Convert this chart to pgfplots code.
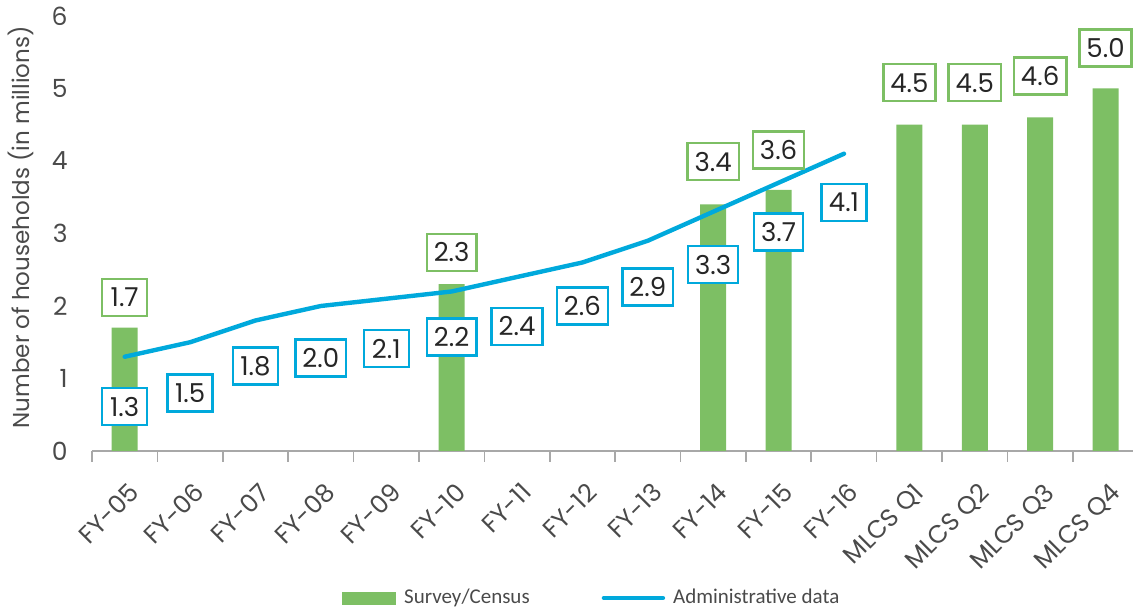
\documentclass[border=0pt]{standalone}
\usepackage{fontspec}
\setmainfont{Poppins}
\newfontfamily\legfont{Carlito}
\usepackage{pgfplots}
\usepackage{pgfplotstable}
\pgfplotsset{compat=1.18}
\usetikzlibrary{calc}

\definecolor{survgreen}{HTML}{7DBF64}
\definecolor{adminblue}{HTML}{00A9DC}
\definecolor{txtgray}{HTML}{4A4A4A}
\definecolor{axgray}{HTML}{A8A8A8}

\tikzset{lblbox/.style={fill=white, line width=1.2pt, minimum width=22.5pt,
  minimum height=18.5pt, inner xsep=3.5pt, inner ysep=0pt, text=black!85,
  font=\fontsize{13}{14}\selectfont}}

% survey / census bars
\pgfplotstableread{
x y
0 1.7
5 2.3
9 3.4
10 3.6
12 4.5
13 4.5
14 4.6
15 5.0
}\surveydata

% administrative data line
\pgfplotstableread{
x y
0 1.3
1 1.5
2 1.8
3 2.0
4 2.1
5 2.2
6 2.4
7 2.6
8 2.9
9 3.3
10 3.7
11 4.1
}\admindata

% label positions
\pgfplotstableread{
x y lab
0 2.12 1.7
5 2.74 2.3
9 3.99 3.4
10 4.15 3.6
12 5.08 4.5
13 5.08 4.5
14 5.17 4.6
15 5.56 5.0
}\surveylabels

\pgfplotstableread{
x y lab
0 0.61 1.3
1 0.80 1.5
2 1.17 1.8
3 1.28 2.0
4 1.41 2.1
5 1.57 2.2
6 1.72 2.4
7 2.00 2.6
8 2.26 2.9
9 2.57 3.3
10 3.02 3.7
11 3.43 4.1
}\adminlabels

\begin{document}
\begin{tikzpicture}
\begin{axis}[
  scale only axis, width=520.5pt, height=217.5pt,
  xmin=-0.5, xmax=15.42, ymin=0, ymax=6,
  separate axis lines,
  axis x line*=bottom, axis y line*=left,
  y axis line style={draw=none},
  x axis line style={axgray, line width=0.8pt},
  ytick={0,...,6}, ytick style={draw=none},
  xtick={0,...,15}, major tick length=0pt,
  minor xtick={-0.5,0.5,...,15.5}, minor tick length=5.5pt,
  tick align=outside,
  x tick style={axgray, line width=0.8pt},
  xticklabels={FY-05,FY-06,FY-07,FY-08,FY-09,FY-10,FY-11,FY-12,FY-13,FY-14,FY-15,FY-16,MLCS Q1,MLCS Q2,MLCS Q3,MLCS Q4},
  tick label style={font=\fontsize{12.5}{13}\selectfont, text=txtgray},
  /pgf/number format/assume math mode=true,
  y tick label style={inner sep=0pt, xshift=-12pt},
  x tick label style={anchor=north east, inner sep=0pt, xshift=1.5pt, yshift=-15pt, rotate=45},
  ylabel={Number of households (in millions)},
  ylabel style={at={(axis description cs:-0.068,0.514)}, anchor=center,
    font=\fontsize{11.5}{12}\selectfont, text=txtgray},
  legend style={at={(0.483,-0.338)}, anchor=center, legend columns=2,
    draw=none, fill=none, font=\legfont\fontsize{10.5}{12}\selectfont, text=txtgray,
    /tikz/every even column/.append style={column sep=32pt},
    nodes={inner xsep=4pt}},
  clip=false,
]
\addplot[ybar, bar width=13pt, fill=survgreen, draw=none,
  legend image code/.code={\fill[survgreen] (0pt,-3.25pt) rectangle (27pt,3.25pt);}]
  table {\surveydata};
\addlegendentry{Survey/Census}
\addplot[adminblue, line width=2.2pt, line join=round, line cap=round, mark=none,
  legend image code/.code={\draw[adminblue, line width=2.2pt, line cap=round] (0pt,0pt) -- (29.5pt,0pt);}]
  table {\admindata};
\addlegendentry{Administrative data}
\addplot[draw=none, mark=none, forget plot, nodes near coords, point meta=explicit symbolic,
  nodes near coords align=center, nodes near coords style={lblbox, draw=survgreen}]
  table[meta=lab] {\surveylabels};
\addplot[draw=none, mark=none, forget plot, nodes near coords, point meta=explicit symbolic,
  nodes near coords align=center, nodes near coords style={lblbox, draw=adminblue}]
  table[meta=lab] {\adminlabels};
\coordinate (sw) at (rel axis cs:0,0);
\coordinate (ne) at (rel axis cs:1,1);
\end{axis}
\pgfresetboundingbox
\path[use as bounding box] ($(sw)+(-46pt,-80.5pt)$) rectangle ($(ne)+(0pt,8pt)$);
\end{tikzpicture}
\end{document}
